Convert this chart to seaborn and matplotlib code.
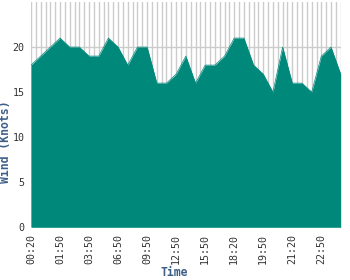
import matplotlib
matplotlib.use("Agg")
import matplotlib.pyplot as plt
import seaborn as sns
import numpy as np
import pandas as pd

# Data
wind_knots = [18, 19, 20, 21, 20, 20, 19, 19, 21, 20, 18, 20, 20, 16, 16, 17,
              19, 16, 18, 18, 19, 21, 21, 18, 17, 15, 20, 16, 16, 15, 19, 20, 17]
tick_labels = ["00:20", "01:50", "03:50", "06:50", "09:50", "12:50",
               "15:50", "18:20", "19:50", "21:20", "22:50"]
y_ticks = [0, 5, 10, 15, 20]

df = pd.DataFrame({"idx": np.arange(len(wind_knots)), "wind": wind_knots})

sns.set_style("white")
plt.rcParams['font.family'] = ['DejaVu Sans Mono', 'DejaVu Sans']

fig = plt.figure(figsize=(3.5, 2.8), dpi=100)
ax = fig.add_axes([31/350, 1-227.3/280, (340.7-31)/350, (227.3-2)/280])

fill_color = "#00897B"
grid_color = "#cccccc"

# gridlines
n = len(wind_knots)
for xv in np.arange(0, n - 1 + 0.01, 0.5):
    ax.axvline(xv, color=grid_color, lw=1, zorder=0)
for yv in [5, 10, 15, 20]:
    ax.axhline(yv, color=grid_color, lw=1, zorder=0)

sns.lineplot(data=df, x="idx", y="wind", ax=ax, color=fill_color, lw=0.5, zorder=2)
ax.fill_between(df["idx"], df["wind"], 0, color=fill_color, lw=0, zorder=2)

ax.set_xlim(0, n - 1)
ax.set_ylim(0, 25)
ax.set_yticks(y_ticks)
ax.set_yticklabels([str(v) for v in y_ticks])
ax.set_xticks(np.arange(0, n, 3)[:len(tick_labels)])
ax.set_xticklabels(tick_labels, rotation=90)

ax.tick_params(axis="both", which="both", length=3, width=1, color="#bbbbbb",
               labelsize=7.2, labelcolor="#333333", pad=1.5, direction="out")
ax.tick_params(axis="x", pad=2)
for s in ax.spines.values():
    s.set_visible(False)

label_color = "#3e6088"
ax.set_xlabel("Time", fontsize=8.3, fontweight="bold", color=label_color)
ax.set_ylabel("Wind (Knots)", fontsize=8.3, fontweight="bold", color=label_color)
ax.xaxis.set_label_coords((174.5-31)/(340.7-31), -(266.5-227.3)/(227.3-2))
ax.yaxis.set_label_coords(-(31-12.5)/(340.7-31), (227.3-141.5)/(227.3-2))

fig.savefig("out.png", dpi=100)
